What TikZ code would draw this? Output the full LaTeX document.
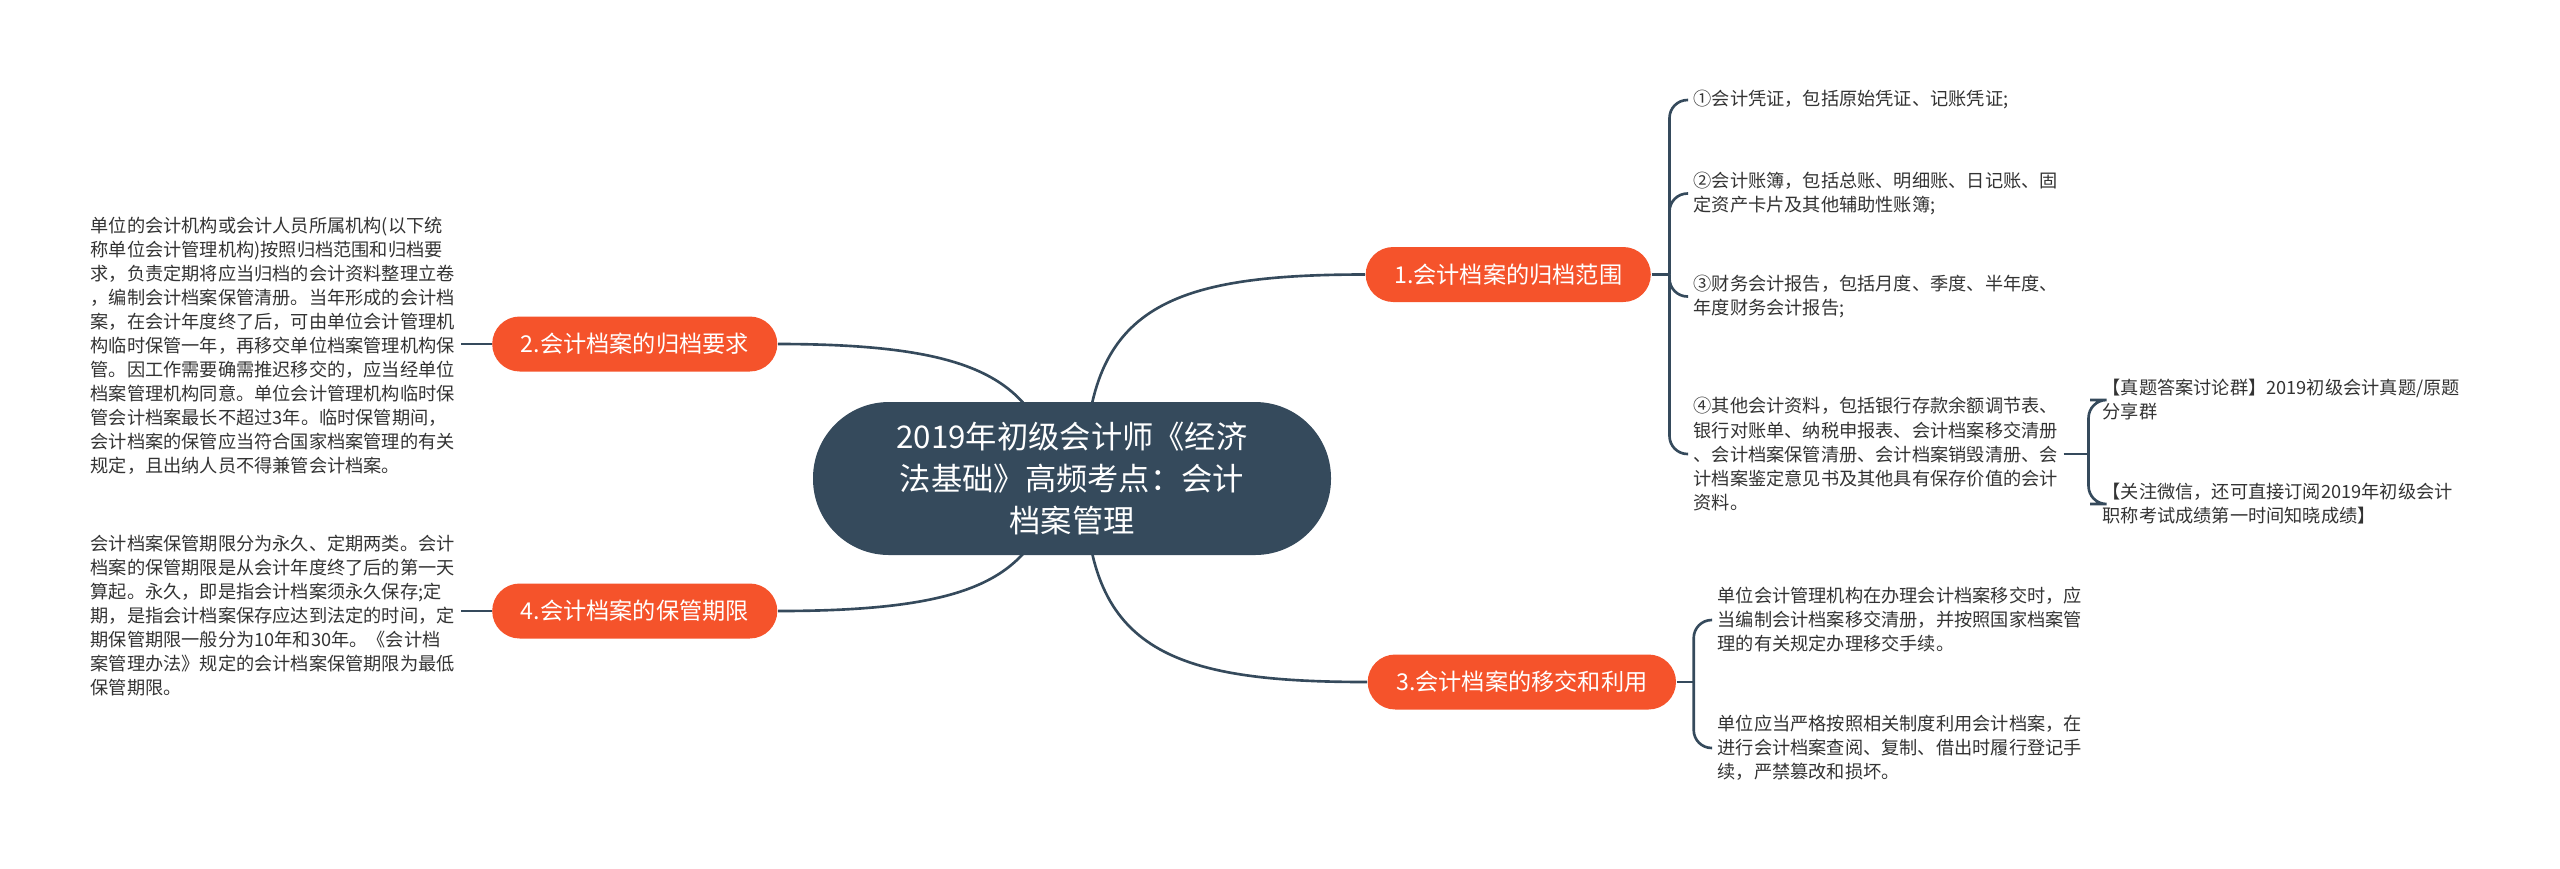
\documentclass[tikz,border=0pt]{standalone}
\usepackage{fontspec}
\usetikzlibrary{positioning,backgrounds}
\newfontfamily\cjk{Noto Sans CJK SC}
\definecolor{ink}{HTML}{333333}
\definecolor{slate}{HTML}{354A5C}
\definecolor{flame}{HTML}{F5532B}

\begin{document}
\begin{tikzpicture}[
    hub/.style={fill=slate,text=white,rounded corners=7.6mm,
        minimum width=5.18cm,minimum height=1.53cm,align=center,
        font=\cjk\fontsize{8.9}{11.9}\selectfont},
    branch/.style={fill=flame,text=white,rounded corners=2.75mm,
        minimum height=5.5mm,inner xsep=2.85mm,
        font=\cjk\fontsize{6.6}{8}\selectfont},
    note/.style={text=ink,align=left,anchor=west,inner xsep=.5mm,inner ysep=.5mm,
        font=\cjk\fontsize{5.18}{6.83}\selectfont},
    link/.style={slate,line width=.75pt}]
  \useasboundingbox (0,0) rectangle (25.6,-8.68);

  \node[hub] (archive) at (10.72,-4.785)
    {2019年初级会计师《经济\\法基础》高频考点：会计\\档案管理};

  \node[branch,anchor=west] (range) at (13.65,-2.745) {1.会计档案的归档范围};
  \node[branch,anchor=east] (request) at (7.78,-3.44) {2.会计档案的归档要求};
  \node[branch,anchor=west] (handover) at (13.67,-6.82) {3.会计档案的移交和利用};
  \node[branch,anchor=east] (period) at (7.78,-6.11) {4.会计档案的保管期限};

  % notes of the first branch
  \node[note] (voucher) at (16.88,-1.00) {①会计凭证，包括原始凭证、记账凭证;};
  \node[note] (ledger) at (16.88,-1.935)
    {②会计账簿，包括总账、明细账、日记账、固\\%
     定资产卡片及其他辅助性账簿;};
  \node[note] (report) at (16.88,-2.965)
    {③财务会计报告，包括月度、季度、半年度、\\%
     年度财务会计报告;};
  \node[note] (others) at (16.88,-4.54)
    {④其他会计资料，包括银行存款余额调节表、\\%
     银行对账单、纳税申报表、会计档案移交清册\\%
     、会计档案保管清册、会计档案销毁清册、会\\%
     计档案鉴定意见书及其他具有保存价值的会计\\%
     资料。};
  \node[note,inner xsep=1.2mm] (group) at (20.9,-4.00)
    {【真题答案讨论群】2019初级会计真题/原题\\%
     分享群};
  \node[note,inner xsep=1.2mm] (wechat) at (20.9,-5.04)
    {【关注微信，还可直接订阅2019年初级会计\\%
     职称考试成绩第一时间知晓成绩】};

  % notes of the third branch
  \node[note] (transfer) at (17.12,-6.20)
    {单位会计管理机构在办理会计档案移交时，应\\%
     当编制会计档案移交清册，并按照国家档案管\\%
     理的有关规定办理移交手续。};
  \node[note] (use) at (17.12,-7.48)
    {单位应当严格按照相关制度利用会计档案，在\\%
     进行会计档案查阅、复制、借出时履行登记手\\%
     续，严禁篡改和损坏。};

  % notes on the left
  \node[note] (requestnote) at (0.85,-3.455)
    {单位的会计机构或会计人员所属机构(以下统\\%
     称单位会计管理机构)按照归档范围和归档要\\%
     求，负责定期将应当归档的会计资料整理立卷\\%
     ，编制会计档案保管清册。当年形成的会计档\\%
     案，在会计年度终了后，可由单位会计管理机\\%
     构临时保管一年，再移交单位档案管理机构保\\%
     管。因工作需要确需推迟移交的，应当经单位\\%
     档案管理机构同意。单位会计管理机构临时保\\%
     管会计档案最长不超过3年。临时保管期间，\\%
     会计档案的保管应当符合国家档案管理的有关\\%
     规定，且出纳人员不得兼管会计档案。};
  \node[note] (periodnote) at (0.85,-6.16)
    {会计档案保管期限分为永久、定期两类。会计\\%
     档案的保管期限是从会计年度终了后的第一天\\%
     算起。永久，即是指会计档案须永久保存;定\\%
     期，是指会计档案保存应达到法定的时间，定\\%
     期保管期限一般分为10年和30年。《会计档\\%
     案管理办法》规定的会计档案保管期限为最低\\%
     保管期限。};

  \coordinate[right=1.8mm of range] (rangefork);
  \coordinate[right=1.7mm of handover] (handoverfork);
  \coordinate[right=2.5mm of others] (othersfork);

  \begin{scope}[on background layer]
    \draw[link] ([xshift=1.3mm]archive.center) .. controls +(0,1.7) and +(-2,0) .. (range.west);
    \draw[link] ([xshift=1.3mm]archive.center) .. controls +(0,-1.7) and +(-2,0) .. (handover.west);
    \draw[link] ([xshift=-1mm]archive.center) .. controls +(-.3,.9) and +(2.2,0) .. (request.east);
    \draw[link] ([xshift=-1mm]archive.center) .. controls +(-.3,-.9) and +(2.2,0) .. (period.east);
  \end{scope}

  \draw[link] (range.east) -- (rangefork);
  \foreach \leaf in {voucher,ledger,report,others}
    \draw[link,rounded corners=1.8mm] (rangefork) |- (\leaf.west);
  \draw[link] (handover.east) -- (handoverfork);
  \foreach \leaf in {transfer,use}
    \draw[link,rounded corners=1.8mm] (handoverfork) |- (\leaf.west);
  \draw[link] (others.east) -- (othersfork);
  \foreach \leaf in {group,wechat}
    \draw[link,rounded corners=1.8mm] (othersfork) |- (\leaf.west);

  \draw[link] (request.west) -- (request.west -| requestnote.east);
  \draw[link] (period.west) -- (period.west -| periodnote.east);
\end{tikzpicture}
\end{document}
